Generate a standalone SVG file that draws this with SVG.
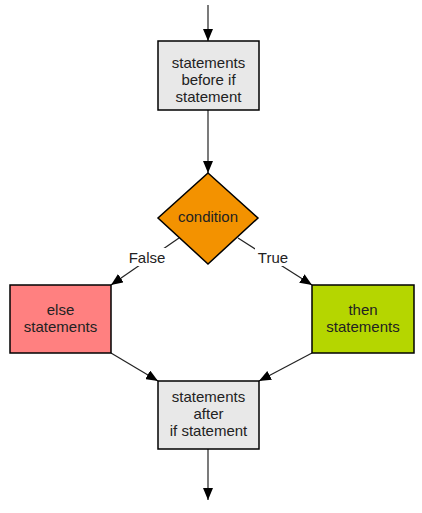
<svg xmlns="http://www.w3.org/2000/svg" width="422" height="513" viewBox="0 0 422 513">
<style>
.box{stroke:#000;stroke-width:1.5}
.t{font-family:"Liberation Sans",Arial,sans-serif;font-size:15px;fill:#222;text-anchor:middle}
.e{stroke:#222;stroke-width:1.2;fill:none;marker-end:url(#ah)}
</style>
<defs>
<marker id="ah" viewBox="0 0 12 10" refX="12" refY="5" markerWidth="12" markerHeight="10" markerUnits="userSpaceOnUse" orient="auto">
<path d="M0,0 L12,5 L0,10 z" fill="#000"/>
</marker>
</defs>
<rect width="422" height="513" fill="#fff"/>
<g id="connectors">
<line class="e" x1="208" y1="5" x2="208" y2="41"/>
<line class="e" x1="208" y1="110" x2="208" y2="173"/>
<line class="e" x1="179" y1="238" x2="111" y2="285"/>
<line class="e" x1="238" y1="238" x2="312" y2="285"/>
<line class="e" x1="111" y1="353" x2="158" y2="381"/>
<line class="e" x1="312" y1="353" x2="259" y2="381"/>
<line class="e" x1="208" y1="449" x2="208" y2="500"/>
<rect x="128" y="248" width="38" height="18" fill="#fff"/>
<rect x="255" y="248" width="36" height="18" fill="#fff"/>
<text class="t" x="147" y="263">False</text>
<text class="t" x="273" y="263">True</text>
</g>
<g id="before">
<rect class="box" x="158" y="41" width="101" height="69" fill="#e8e8e8"/>
<text class="t" x="208.5" y="68">statements</text>
<text class="t" x="208.5" y="85">before if</text>
<text class="t" x="208.5" y="102">statement</text>
</g>
<g id="condition">
<polygon class="box" points="208,173 258,218 208,264 158,218" fill="#f39200" stroke-width="1.2"/>
<text class="t" x="208" y="222">condition</text>
</g>
<g id="else">
<rect class="box" x="10" y="285" width="101" height="68" fill="#ff8080"/>
<text class="t" x="60.5" y="315">else</text>
<text class="t" x="60.5" y="332">statements</text>
</g>
<g id="then">
<rect class="box" x="312" y="285" width="102" height="68" fill="#b5d600"/>
<text class="t" x="363" y="315">then</text>
<text class="t" x="363" y="332">statements</text>
</g>
<g id="after">
<rect class="box" x="158" y="381" width="101" height="68" fill="#e8e8e8"/>
<text class="t" x="208.5" y="402">statements</text>
<text class="t" x="208.5" y="419">after</text>
<text class="t" x="208.5" y="436">if statement</text>
</g>
</svg>
